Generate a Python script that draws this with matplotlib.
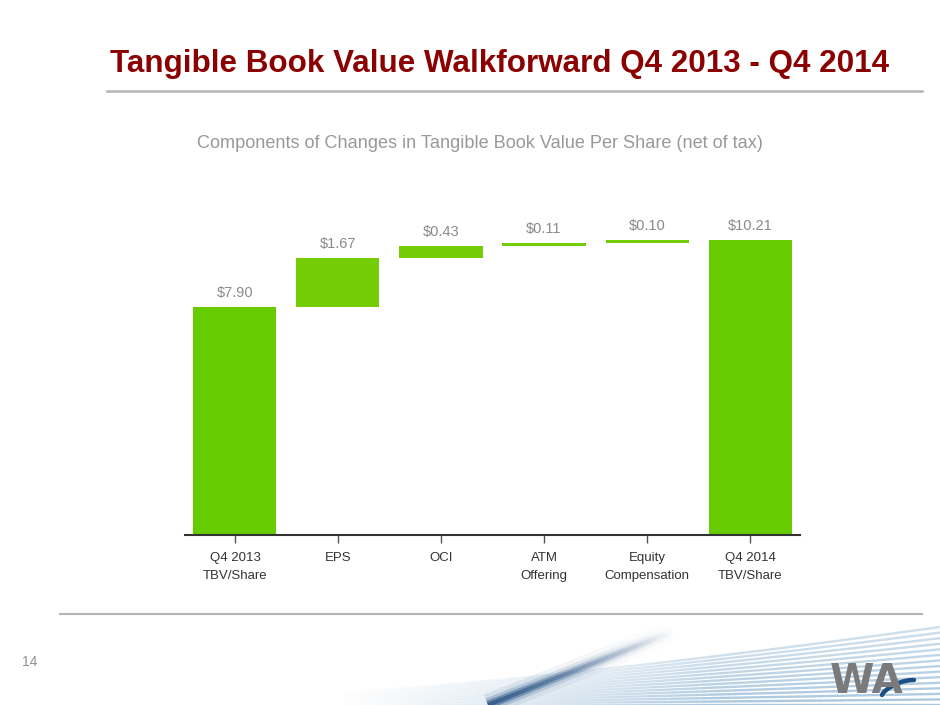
import numpy as np
import matplotlib
matplotlib.use("Agg")
import matplotlib.pyplot as plt
from matplotlib.lines import Line2D
from matplotlib.collections import LineCollection

plt.rcParams['font.family'] = ['Liberation Sans', 'DejaVu Sans']

# data
categories = ['Q4 2013\nTBV/Share', 'EPS', 'OCI', 'ATM\nOffering',
              'Equity\nCompensation', 'Q4 2014\nTBV/Share']
start_value = 7.90
changes = [1.67, 0.43, 0.11, 0.10]
end_value = 10.21
value_labels = ['$7.90', '$1.67', '$0.43', '$0.11', '$0.10', '$10.21']

W, H = 940, 705
fig = plt.figure(figsize=(W / 100, H / 100), dpi=100, facecolor='white')


def fx(px):
    return px / W


def fy(py):
    return 1 - py / H


# title + rules
fig.text(fx(110), fy(64), 'Tangible Book Value Walkforward Q4 2013 - Q4 2014',
         fontsize=22.6, fontweight='bold', color='#8B0000', ha='left', va='center')
fig.add_artist(Line2D([fx(107), fx(922)], [fy(91), fy(91)], color='#b4b4b4', lw=1.8))
fig.text(fx(480), fy(143), 'Components of Changes in Tangible Book Value Per Share (net of tax)',
         fontsize=13.1, color='#999999', ha='center', va='center')
fig.add_artist(Line2D([fx(60), fx(922)], [fy(614), fy(614)], color='#b4b4b4', lw=1.5))
fig.text(fx(30), fy(662), '14', fontsize=10, color='#909090', ha='center', va='center')

# footer decoration
deco = fig.add_axes([fx(300), 0, fx(640), 90 / H])
deco.set_xlim(300, 940)
deco.set_ylim(705, 615)
deco.axis('off')

segs, cols = [], []
n_lines = 15
xs = np.linspace(330, 940, 80)
for i in range(n_lines):
    yl = 692 + i * (13 / (n_lines - 1))
    yr = 627 + i * (78 / (n_lines - 1))
    ys = yl + (yr - yl) * ((xs - 330) / 610) ** 1.3
    for j in range(len(xs) - 1):
        t = (xs[j] - 330) / 610
        a = 0.6 * min(t * 1.6, 1.0) ** 1.6 * (0.55 + 0.45 * i / n_lines)
        segs.append([(xs[j], ys[j]), (xs[j + 1], ys[j + 1])])
        cols.append((0.42, 0.62, 0.78, a))
deco.add_collection(LineCollection(segs, colors=cols, linewidths=1.7))

# dark diagonal stroke, blurred by stacking widths
dx = np.linspace(488, 672, 50)
dy = 705 - (dx - 488) * (73 / 184)
for lw, base in [(16, 0.10), (10, 0.22), (6, 0.45), (3, 0.6)]:
    dsegs, dcols = [], []
    for j in range(len(dx) - 1):
        t = (dx[j] - 488) / 184
        a = base * (1 - t) ** 1.1
        dsegs.append([(dx[j], dy[j]), (dx[j + 1], dy[j + 1])])
        dcols.append((0.09, 0.27, 0.48, a))
    deco.add_collection(LineCollection(dsegs, colors=dcols, linewidths=lw, capstyle='butt'))

# logo
deco.text(867, 682, 'WA', fontsize=29, fontweight='bold', color='#7a7a7a',
          ha='center', va='center', family='Liberation Sans Narrow')
arc_x = np.linspace(882, 914, 30)
deco.plot(arc_x, 695 - 15 * np.sin((arc_x - 882) / 32 * np.pi / 2) ** 0.7,
          color='#1d4f85', lw=3.2, solid_capstyle='round')

# waterfall
ax = fig.add_axes([fx(185), fy(535), fx(615), (535 - 200) / H])
x = np.arange(len(categories))
bottoms = [0]
heights = [start_value]
running = start_value
for c in changes:
    bottoms.append(running)
    heights.append(c)
    running += c
bottoms.append(0)
heights.append(end_value)
colors = ['#66cc00'] + ['#74cc04'] * len(changes) + ['#66cc00']

ax.bar(x, heights, bottom=bottoms, width=0.806, color=colors, edgecolor='none')
for xi, b, h, lab in zip(x, bottoms, heights, value_labels):
    ax.annotate(lab, (xi, b + h), xytext=(0, 5), textcoords='offset points',
                ha='center', va='bottom', fontsize=10.5, color='#8a8a8a')

ax.set_xlim(-0.485, 5.485)
ax.set_ylim(0, (535 - 200) / 28.9)
ax.set_xticks(x)
ax.set_xticklabels(categories, fontsize=9.5, color='#333333', linespacing=1.7)
ax.set_yticks([])
for s in ['top', 'right', 'left']:
    ax.spines[s].set_visible(False)
ax.spines['bottom'].set_color('#333333')
ax.spines['bottom'].set_linewidth(1.5)
ax.tick_params(axis='x', length=6, width=1, color='#555555', direction='out', pad=6)
ax.patch.set_alpha(0)

fig.savefig('out.png', dpi=100, facecolor='white')
